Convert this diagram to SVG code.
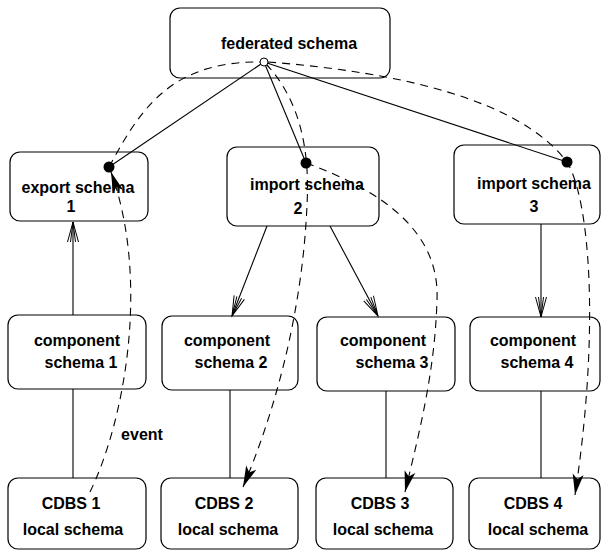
<svg xmlns="http://www.w3.org/2000/svg" width="604" height="550" viewBox="0 0 604 550">
<style>
.box{fill:#fff;stroke:#000;stroke-width:1.2}
.t{font-family:"Liberation Sans",Arial,sans-serif;font-weight:bold;font-size:16px;text-anchor:middle;fill:#000}
.ln{fill:none;stroke:#000;stroke-width:1.1}
.ds{fill:none;stroke:#000;stroke-width:1.1;stroke-dasharray:8,6}
</style>
<defs>
<marker id="open" viewBox="-22 -8 24 16" refX="0" refY="0" markerWidth="24" markerHeight="16" markerUnits="userSpaceOnUse" orient="auto">
<path d="M-20,-5.5 L0,0 L-20,5.5 M-20,-2.5 L0,0 L-20,2.5" fill="none" stroke="#000" stroke-width="1"/>
</marker>
<marker id="fill" viewBox="-22 -8 24 16" refX="0" refY="0" markerWidth="24" markerHeight="16" markerUnits="userSpaceOnUse" orient="auto">
<path d="M-21,-5.5 L0,0 L-21,5.5 L-16,0 z" fill="#000"/>
</marker>
</defs>
<rect width="604" height="550" fill="#fff"/>
<g id="federated"><rect class="box" x="170" y="8" width="220" height="70" rx="10"/><text class="t" x="289" y="49">federated schema</text></g>
<g id="export1"><rect class="box" x="10" y="152" width="138" height="69" rx="10"/><text class="t" x="78" y="193">export schema</text><text class="t" x="71" y="212">1</text></g>
<g id="import2"><rect class="box" x="227" y="147" width="152" height="79" rx="10"/><text class="t" x="307" y="190">import schema</text><text class="t" x="298" y="214">2</text></g>
<g id="import3"><rect class="box" x="454" y="145" width="146" height="79" rx="10"/><text class="t" x="534" y="189">import schema</text><text class="t" x="534" y="212">3</text></g>
<g id="comp1"><rect class="box" x="8" y="315" width="138" height="74" rx="10"/><text class="t" x="77" y="346">component</text><text class="t" x="81" y="368">schema 1</text></g>
<g id="comp2"><rect class="box" x="162" y="316" width="136" height="74" rx="10"/><text class="t" x="227" y="346">component</text><text class="t" x="231" y="368">schema 2</text></g>
<g id="comp3"><rect class="box" x="317" y="317" width="138" height="74" rx="10"/><text class="t" x="383" y="346">component</text><text class="t" x="392" y="368">schema 3</text></g>
<g id="comp4"><rect class="box" x="470" y="317" width="130" height="74" rx="10"/><text class="t" x="533" y="346">component</text><text class="t" x="537" y="368">schema 4</text></g>
<g id="cdbs1"><rect class="box" x="8" y="478" width="138" height="71" rx="10"/><text class="t" x="71" y="509">CDBS 1</text><text class="t" x="73" y="535">local schema</text></g>
<g id="cdbs2"><rect class="box" x="161" y="478" width="137" height="71" rx="10"/><text class="t" x="224" y="509">CDBS 2</text><text class="t" x="228" y="535">local schema</text></g>
<g id="cdbs3"><rect class="box" x="316" y="478" width="137" height="71" rx="10"/><text class="t" x="380" y="509">CDBS 3</text><text class="t" x="383" y="535">local schema</text></g>
<g id="cdbs4"><rect class="box" x="469" y="478" width="131" height="71" rx="10"/><text class="t" x="533" y="509">CDBS 4</text><text class="t" x="538" y="535">local schema</text></g>
<g id="connectors">
<line class="ln" x1="264" y1="62" x2="109" y2="167"/>
<line class="ln" x1="264" y1="62" x2="306" y2="163"/>
<line class="ln" x1="264" y1="62" x2="567" y2="162"/>
<line class="ln" x1="73" y1="315" x2="73" y2="222" marker-end="url(#open)"/>
<line class="ln" x1="267" y1="226" x2="232" y2="316" marker-end="url(#open)"/>
<line class="ln" x1="330" y1="226" x2="378" y2="316" marker-end="url(#open)"/>
<line class="ln" x1="541" y1="224" x2="541" y2="317" marker-end="url(#open)"/>
<line class="ln" x1="73" y1="389" x2="73" y2="478"/>
<line class="ln" x1="230" y1="390" x2="230" y2="478"/>
<line class="ln" x1="386" y1="391" x2="386" y2="478"/>
<line class="ln" x1="541" y1="391" x2="541" y2="478"/>
<path class="ds" d="M90,492 C125,420 150,280 111,172" marker-end="url(#fill)"/>
<path class="ds" d="M109,167 C140,110 170,60 264,62"/>
<path class="ds" d="M266,64 C300,100 310,150 307,205 C303,300 280,400 243,487" marker-end="url(#fill)"/>
<path class="ds" d="M306,163 C380,190 440,230 437,300 C435,370 420,430 405,492" marker-end="url(#fill)"/>
<path class="ds" d="M268,62 C400,72 520,100 567,162 C590,200 600,330 575,495" marker-end="url(#fill)"/>
<circle cx="109" cy="167" r="5.5" fill="#000"/>
<circle cx="306" cy="163" r="5.5" fill="#000"/>
<circle cx="567" cy="162" r="5.5" fill="#000"/>
<circle cx="264" cy="62" r="4" fill="#fff" stroke="#000" stroke-width="1"/>
<text class="t" x="142" y="440">event</text>
</g>
</svg>
